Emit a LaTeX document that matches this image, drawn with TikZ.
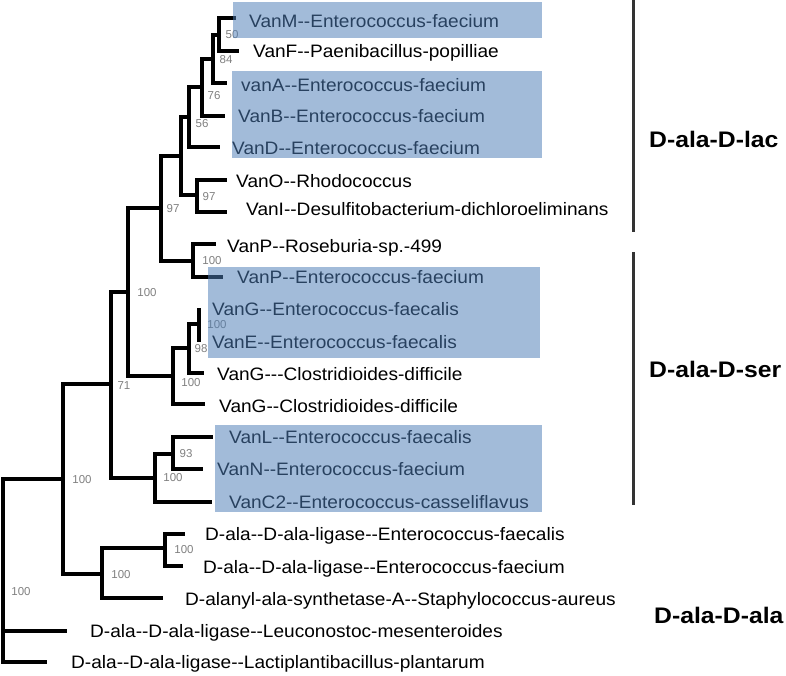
\documentclass[tikz,border=0pt]{standalone}
\usepackage{fontspec}
\newfontfamily\leaffont{Liberation Sans}[FakeStretch=1.06]
\newfontfamily\groupfont{Liberation Sans}[FakeStretch=1.10]
\newfontfamily\bootfont{Liberation Sans}
\usetikzlibrary{calc}
\definecolor{hilite}{HTML}{4D7DB7}
\definecolor{bootgray}{HTML}{808080}
\definecolor{bargray}{HTML}{333333}
\tikzset{
  branch/.style={
    line width=3.8pt,
    line cap=rect,
    draw=black,
  },
  leaf/.style={
    anchor=base west,
    inner sep=0pt,
    font=\leaffont\fontsize{18}{21}\selectfont,
  },
  boot/.style={
    inner sep=0pt,
    text=bootgray,
    font=\bootfont\fontsize{11.5}{12}\selectfont,
  },
  grouplabel/.style={
    anchor=base west,
    inner sep=0pt,
    font=\groupfont\fontsize{22.5}{26}\selectfont\bfseries,
  },
  groupbar/.style={
    line width=3pt,
    draw=bargray,
  },
  clade/.style={
    fill=hilite,
    fill opacity=0.52,
  },
}

\begin{document}
\begin{tikzpicture}[x=1pt,y=-1pt]
\useasboundingbox (0,0) rectangle (786,675);

% === Internal nodes ===

\coordinate (root) at (3,479);
\coordinate (n16) at (63,479);
\coordinate (n13) at (111,384);
\coordinate (n9)  at (128,292);
\coordinate (n7)  at (161,208);
\coordinate (n5)  at (181,156);
\coordinate (n4)  at (189,117);
\coordinate (n3)  at (202,87);
\coordinate (n2)  at (213,59);
\coordinate (n1)  at (219,35);
\coordinate (n6)  at (197,195);
\coordinate (n8)  at (193,261);
\coordinate (n10) at (173,376);
\coordinate (n11) at (189,348);
\coordinate (n12) at (199,324);
\coordinate (n14) at (155,478);
\coordinate (n15) at (173,454);
\coordinate (n17) at (102,574);
\coordinate (n18) at (165,548);

% === Tips ===

\coordinate (tVanM)   at (234,18);
\coordinate (tVanF)   at (237,51);
\coordinate (tvanA)   at (225,83);
\coordinate (tVanB)   at (223,116);
\coordinate (tVanD)   at (218,147);
\coordinate (tVanO)   at (225,180);
\coordinate (tVanI)   at (225,212);
\coordinate (tVanPR)  at (214,244);
\coordinate (tVanPE)  at (221,277);
\coordinate (tVanGE)  at (199,310);
\coordinate (tVanE)   at (199,340);
\coordinate (tVanGC3) at (202,373);
\coordinate (tVanGC2) at (203,404);
\coordinate (tVanL)   at (211,437);
\coordinate (tVanN)   at (201,469);
\coordinate (tVanC2)  at (210,502);
\coordinate (tDEfs)   at (183,534);
\coordinate (tDEfm)   at (181,566);
\coordinate (tDsyn)   at (161,598);
\coordinate (tLeuc)   at (65,631);
\coordinate (tLacti)  at (45,662);

% === Branches ===

\draw[branch] (root) |- (n16);
\draw[branch] (root) |- (tLeuc);
\draw[branch] (root) |- (tLacti);
\draw[branch] (n16) |- (n13);
\draw[branch] (n16) |- (n17);
\draw[branch] (n13) |- (n9);
\draw[branch] (n13) |- (n14);
\draw[branch] (n9) |- (n7);
\draw[branch] (n9) |- (n10);
\draw[branch] (n7) |- (n5);
\draw[branch] (n7) |- (n8);
\draw[branch] (n5) |- (n4);
\draw[branch] (n5) |- (n6);
\draw[branch] (n4) |- (n3);
\draw[branch] (n4) |- (tVanD);
\draw[branch] (n3) |- (n2);
\draw[branch] (n3) |- (tVanB);
\draw[branch] (n2) |- (n1);
\draw[branch] (n2) |- (tvanA);
\draw[branch] (n1) |- (tVanM);
\draw[branch] (n1) |- (tVanF);
\draw[branch] (n6) |- (tVanO);
\draw[branch] (n6) |- (tVanI);
\draw[branch] (n8) |- (tVanPR);
\draw[branch] (n8) |- (tVanPE);
\draw[branch] (n10) |- (n11);
\draw[branch] (n10) |- (tVanGC2);
\draw[branch] (n11) |- (n12);
\draw[branch] (n11) |- (tVanGC3);
\draw[branch] (n12) |- (tVanGE);
\draw[branch] (n12) |- (tVanE);
\draw[branch] (n14) |- (n15);
\draw[branch] (n14) |- (tVanC2);
\draw[branch] (n15) |- (tVanL);
\draw[branch] (n15) |- (tVanN);
\draw[branch] (n17) |- (n18);
\draw[branch] (n17) |- (tDsyn);
\draw[branch] (n18) |- (tDEfs);
\draw[branch] (n18) |- (tDEfm);

% === Bootstrap values ===

\node[boot] (bs1)  at (232,35)  {50};
\node[boot] (bs2)  at (226,60)  {84};
\node[boot] (bs3)  at (214,96)  {76};
\node[boot] (bs4)  at (202,124) {56};
\node[boot] (bs6)  at (209,197) {97};
\node[boot] (bs7)  at (173,209) {97};
\node[boot] (bs8)  at (212,261) {100};
\node[boot] (bs9)  at (147,293) {100};
\node[boot] (bs12) at (217,325) {100};
\node[boot] (bs11) at (201,349) {98};
\node[boot] (bs10) at (191,383) {100};
\node[boot] (bs13) at (124,386) {71};
\node[boot] (bs15) at (186,454) {93};
\node[boot] (bs14) at (173,478) {100};
\node[boot] (bs16) at (82,480)  {100};
\node[boot] (bs18) at (184,550) {100};
\node[boot] (bs17) at (121,575) {100};
\node[boot] (bsr)  at (21,592)  {100};

% === Leaf labels ===

\node[leaf] (lVanM)   at (249,27)  {VanM--Enterococcus-faecium};
\node[leaf] (lVanF)   at (253,57)  {VanF--Paenibacillus-popilliae};
\node[leaf] (lvanA)   at (241,91)  {vanA--Enterococcus-faecium};
\node[leaf] (lVanB)   at (238,122) {VanB--Enterococcus-faecium};
\node[leaf] (lVanD)   at (232,154) {VanD--Enterococcus-faecium};
\node[leaf] (lVanO)   at (236,187) {VanO--Rhodococcus};
\node[leaf] (lVanI)   at (246,215) {VanI--Desulfitobacterium-dichloroeliminans};
\node[leaf] (lVanPR)  at (227,252) {VanP--Roseburia-sp.-499};
\node[leaf] (lVanPE)  at (237,283) {VanP--Enterococcus-faecium};
\node[leaf] (lVanGE)  at (212,315) {VanG--Enterococcus-faecalis};
\node[leaf] (lVanE)   at (212,348) {VanE--Enterococcus-faecalis};
\node[leaf] (lVanGC3) at (217,380) {VanG---Clostridioides-difficile};
\node[leaf] (lVanGC2) at (219,412) {VanG--Clostridioides-difficile};
\node[leaf] (lVanL)   at (229,443) {VanL--Enterococcus-faecalis};
\node[leaf] (lVanN)   at (217,475) {VanN--Enterococcus-faecium};
\node[leaf] (lVanC2)  at (229,508) {VanC2--Enterococcus-casseliflavus};
\node[leaf] (lDEfs)   at (205,540) {D-ala--D-ala-ligase--Enterococcus-faecalis};
\node[leaf] (lDEfm)   at (203,573) {D-ala--D-ala-ligase--Enterococcus-faecium};
\node[leaf] (lDsyn)   at (185,605) {D-alanyl-ala-synthetase-A--Staphylococcus-aureus};
\node[leaf] (lLeuc)   at (90,637)  {D-ala--D-ala-ligase--Leuconostoc-mesenteroides};
\node[leaf] (lLacti)  at (71,668)  {D-ala--D-ala-ligase--Lactiplantibacillus-plantarum};

% === Highlighted clades (drawn over the labels) ===

\fill[clade] (233,2) rectangle (542,38);
\fill[clade] (232,71) rectangle (542,158);
\fill[clade] (208,267) rectangle (540,358);
\fill[clade] (215,425) rectangle (542,512);

% === Groups ===

\coordinate (lacTop) at (633,0);
\coordinate (lacBot) at (633,232);
\coordinate (serTop) at (633,252);
\coordinate (serBot) at (633,505);
\draw[groupbar] (lacTop) -- (lacBot);
\draw[groupbar] (serTop) -- (serBot);

\node[grouplabel] (glac) at (649,147) {D-ala-D-lac};
\node[grouplabel] (gser) at (649,377) {D-ala-D-ser};
\node[grouplabel] (gala) at (654,623) {D-ala-D-ala};

\end{tikzpicture}
\end{document}
